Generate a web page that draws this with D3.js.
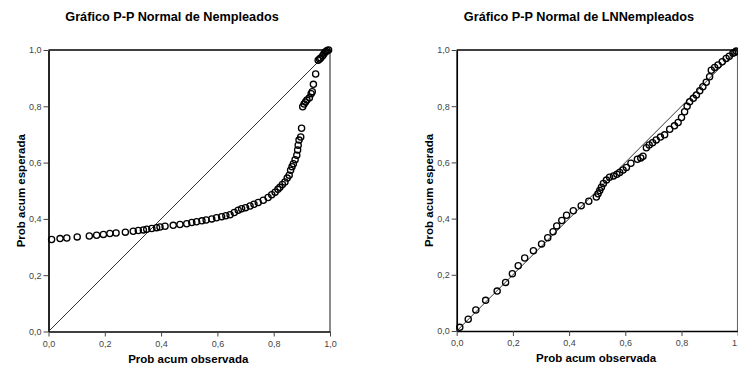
<!DOCTYPE html>
<html>
<head>
<meta charset="utf-8">
<script src="https://cdn.jsdelivr.net/npm/d3@7"></script>
<style>
  body { margin: 0; background: #fff; }
  svg { display: block; font-family: "Liberation Sans", Arial, sans-serif; }
</style>
</head>
<body>
<div id="root"></div>
<script>
// P-P Normal de Nempleados (prob acum observada, prob acum esperada)
var obsN = [0.011,0.041,0.065,0.102,0.145,0.171,0.195,0.218,0.240,0.273,0.301,0.319,0.337,0.349,0.367,0.384,0.396,0.414,0.443,0.467,
  0.491,0.509,0.526,0.545,0.560,0.580,0.597,0.615,0.630,0.645,0.660,0.674,0.686,0.700,0.716,0.730,0.745,0.763,0.780,0.793,
  0.805,0.815,0.822,0.831,0.840,0.848,0.855,0.860,0.865,0.870,0.876,0.882,0.885,0.887,0.890,0.896,0.899,0.903,0.908,0.913,
  0.918,0.927,0.933,0.937,0.941,0.949,0.958,0.963,0.967,0.974,0.978,0.982,0.986,0.990,0.995];
var expN = [0.327,0.330,0.332,0.336,0.339,0.342,0.345,0.348,0.350,0.353,0.356,0.359,0.361,0.363,0.366,0.369,0.371,0.374,0.377,0.380,
  0.383,0.387,0.390,0.393,0.396,0.400,0.404,0.408,0.411,0.415,0.423,0.431,0.436,0.440,0.446,0.452,0.458,0.466,0.476,0.486,
  0.495,0.505,0.512,0.522,0.531,0.545,0.555,0.573,0.585,0.596,0.610,0.626,0.645,0.662,0.680,0.691,0.722,0.798,0.808,0.815,
  0.822,0.830,0.845,0.852,0.878,0.915,0.964,0.968,0.972,0.980,0.986,0.992,0.995,0.998,1.000];

// P-P Normal de LNNempleados
var obsL = [0.011,0.041,0.068,0.103,0.144,0.174,0.198,0.219,0.242,0.273,0.302,0.324,0.343,0.356,0.374,0.391,0.415,0.443,0.470,0.497,
  0.503,0.509,0.515,0.522,0.533,0.544,0.558,0.570,0.580,0.592,0.604,0.620,0.643,0.655,0.663,0.675,0.685,0.697,0.710,0.725,
  0.740,0.758,0.775,0.788,0.800,0.811,0.820,0.829,0.842,0.853,0.865,0.876,0.888,0.900,0.906,0.918,0.930,0.945,0.959,0.970,
  0.983,0.990,0.995];
var expL = [0.013,0.042,0.075,0.109,0.142,0.173,0.204,0.232,0.260,0.286,0.310,0.332,0.353,0.374,0.393,0.412,0.428,0.446,0.462,0.477,
  0.488,0.500,0.512,0.525,0.537,0.547,0.552,0.558,0.564,0.573,0.582,0.597,0.611,0.616,0.622,0.652,0.662,0.670,0.680,0.690,
  0.698,0.718,0.730,0.742,0.760,0.780,0.800,0.816,0.828,0.840,0.855,0.869,0.885,0.905,0.928,0.938,0.947,0.958,0.970,0.978,
  0.988,0.992,0.996];

var ticks = [0, 0.2, 0.4, 0.6, 0.8, 1.0];
var titles = ["Gráfico P-P Normal de Nempleados", "Gráfico P-P Normal de LNNempleados"];
var xTitle = "Prob acum observada";
var yTitle = "Prob acum esperada";

var W = 738, H = 367;
var svg = d3.select("#root").append("svg").attr("width", W).attr("height", H);

var fmt = d3.formatLocale({decimal: ",", thousands: ".", grouping: [3], currency: ["", ""]}).format(".1f");

function drawChart(cfg) {
    var x = d3.scaleLinear().domain([0, 1]).range([cfg.left, cfg.left + cfg.size]);
    var y = d3.scaleLinear().domain([0, 1]).range([cfg.top + cfg.size, cfg.top]);
    var g = svg.append("g");

    g.append("text")
        .attr("x", cfg.titleX).attr("y", 21)
        .attr("text-anchor", "middle")
        .style("font-size", "12.7px").style("font-weight", "bold")
        .text(cfg.title);

    // frame: top and right
    g.append("line").attr("x1", x(0)).attr("x2", x(1)).attr("y1", y(1)).attr("y2", y(1))
        .attr("stroke", "#000").attr("stroke-width", 1.5);
    g.append("line").attr("x1", x(1)).attr("x2", x(1)).attr("y1", y(0)).attr("y2", y(1))
        .attr("stroke", "#666").attr("stroke-width", 1.5);

    var xAxis = g.append("g")
        .attr("transform", "translate(0," + y(0) + ")")
        .call(d3.axisBottom(x).tickValues(ticks).tickFormat(fmt).tickSize(5).tickSizeOuter(0).tickPadding(4));
    var yAxis = g.append("g")
        .attr("transform", "translate(" + x(0) + ",0)")
        .call(d3.axisLeft(y).tickValues(ticks).tickFormat(fmt).tickSize(5).tickSizeOuter(0).tickPadding(2));

    [xAxis, yAxis].forEach(function(a){
        a.select(".domain").attr("stroke", "#000").attr("stroke-width", 1.7);
        a.selectAll(".tick line").attr("stroke", "#444").attr("stroke-width", 1);
        a.selectAll(".tick text").attr("fill", "#444").style("font-size", "9px").style("font-family", "Liberation Sans, Arial, sans-serif");
    });

    g.append("text")
        .attr("x", x(0.5) - 1).attr("y", y(0) + 31)
        .attr("text-anchor", "middle")
        .style("font-size", "11.5px").style("font-weight", "bold")
        .text(xTitle);
    g.append("text")
        .attr("transform", "translate(" + (cfg.left - 24) + "," + y(0.5) + ") rotate(-90)")
        .attr("text-anchor", "middle")
        .style("font-size", "11.5px").style("font-weight", "bold")
        .text(yTitle);

    // reference diagonal
    g.append("line").attr("x1", x(0)).attr("y1", y(0)).attr("x2", x(1)).attr("y2", y(1))
        .attr("stroke", "#333").attr("stroke-width", 1);

    g.selectAll(".pt")
        .data(d3.zip(cfg.obs, cfg.exp))
        .enter()
        .append("circle")
        .classed("pt", true)
        .attr("cx", function(d){ return x(d[0]); })
        .attr("cy", function(d){ return y(d[1]); })
        .attr("r", 3.1)
        .attr("fill", "none")
        .attr("stroke", "#000")
        .attr("stroke-width", 1.3);
}

drawChart({left: 48.5, top: 50, size: 281.5, title: titles[0], titleX: 172, obs: obsN, exp: expN});
drawChart({left: 456.7, top: 50, size: 281, title: titles[1], titleX: 579, obs: obsL, exp: expL});
</script>
</body>
</html>
